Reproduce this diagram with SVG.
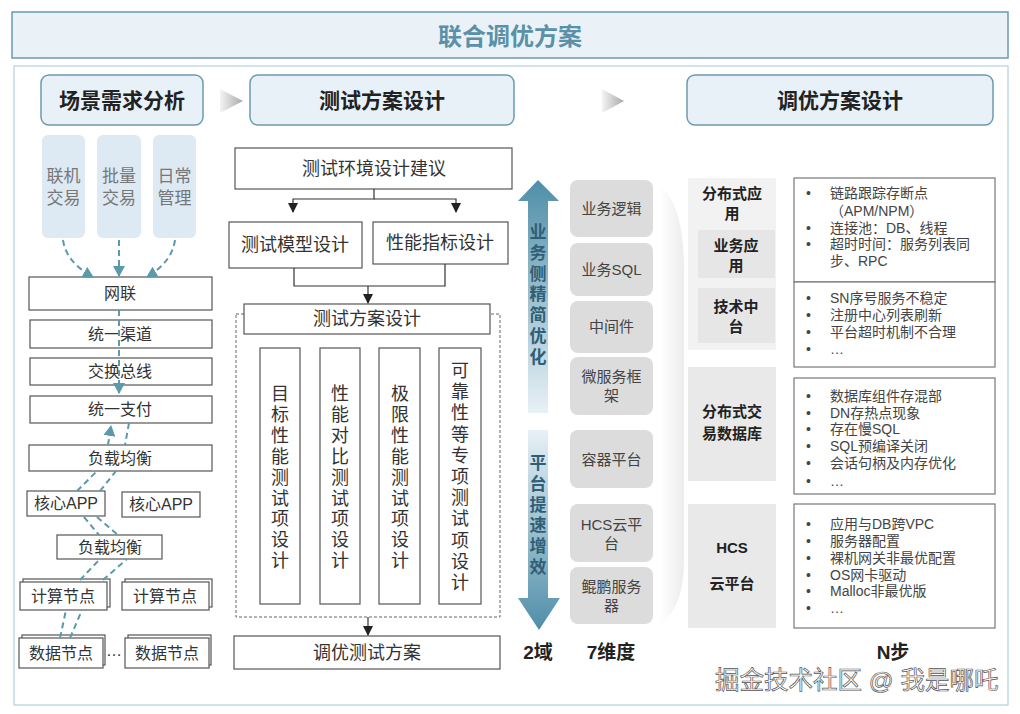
<svg xmlns="http://www.w3.org/2000/svg" width="1020" height="714" viewBox="0 0 1020 714">
<defs>
<style>
text{font-family:"Liberation Sans","Noto Sans CJK SC",sans-serif}
.hdr{fill:#e8f1f7;stroke:#6b9bb0;stroke-width:1.5}
.hdrt{font-size:21px;font-weight:bold;fill:#222;text-anchor:middle}
.box{fill:#fff;stroke:#555;stroke-width:1.2}
.bt{font-size:16px;fill:#333;text-anchor:middle}
.mt{font-size:18px;fill:#333;text-anchor:middle}
.scn{fill:#dde9f3}
.scnt{font-size:17px;fill:#777;text-anchor:middle}
.gbox{fill:#dcdcdc}
.gt{font-size:15px;fill:#444;text-anchor:middle}
.rg{fill:#e9e9e9}
.rgt{font-size:15px;font-weight:bold;fill:#222;text-anchor:middle}
.wb{fill:#fff;stroke:#777;stroke-width:1.2}
.li{font-size:14px;fill:#444}
.dash{fill:none;stroke:#5a9aaa;stroke-width:2;stroke-dasharray:6 4}
.con{fill:none;stroke:#333;stroke-width:1.2}
.big{font-size:19px;font-weight:bold;fill:#222;text-anchor:middle}
.vt{font-size:18px;fill:#333;text-anchor:middle}
.at{font-size:17px;font-weight:bold;fill:#2f5f77;text-anchor:middle}
</style>
<marker id="ta" markerUnits="userSpaceOnUse" markerWidth="12" markerHeight="12" refX="10" refY="6" orient="auto">
<path d="M0,0 L11,6 L0,12 Z" fill="#5a9aaa"/>
</marker>
<marker id="ka" markerUnits="userSpaceOnUse" markerWidth="10" markerHeight="10" refX="9" refY="5" orient="auto">
<path d="M0,0 L10,5 L0,10 Z" fill="#222"/>
</marker>
<linearGradient id="upG" x1="0" y1="0" x2="0" y2="1">
<stop offset="0" stop-color="#4f8ea8"/><stop offset="1" stop-color="#e8f1f6"/>
</linearGradient>
<linearGradient id="dnG" x1="0" y1="0" x2="0" y2="1">
<stop offset="0" stop-color="#e8f1f6"/><stop offset="1" stop-color="#4f8ea8"/>
</linearGradient>
<linearGradient id="chev" x1="0" y1="0" x2="1" y2="0">
<stop offset="0" stop-color="#f4f4f4"/><stop offset="1" stop-color="#a8a8a8"/>
</linearGradient>
<linearGradient id="brk" x1="0" y1="0" x2="1" y2="0">
<stop offset="0" stop-color="#ffffff"/><stop offset="1" stop-color="#ececec"/>
</linearGradient>
</defs>

<rect x="0" y="0" width="1020" height="714" fill="#fff"/>

<g id="title">
<rect x="12" y="12" width="996" height="46" fill="#eaf2f7" stroke="#6a9ab0" stroke-width="1.5"/>
<text x="510" y="45" font-size="24" font-weight="bold" fill="#5a90a8" text-anchor="middle">联合调优方案</text>
</g>
<rect x="14" y="66" width="994" height="639" fill="#fff" stroke="#b3cfe0" stroke-width="1.2"/>

<g id="headers">
<rect class="hdr" x="41" y="75" width="162" height="50" rx="8"/>
<text class="hdrt" x="122" y="108">场景需求分析</text>
<rect class="hdr" x="250" y="75" width="264" height="50" rx="8"/>
<text class="hdrt" x="382" y="108">测试方案设计</text>
<rect class="hdr" x="687" y="75" width="306" height="50" rx="8"/>
<text class="hdrt" x="840" y="108">调优方案设计</text>
<polygon points="220,89 243,101 220,113" fill="url(#chev)"/>
<polygon points="602,89 624,101 602,113" fill="url(#chev)"/>
</g>

<!-- Left column -->
<g id="scenarios">
<rect class="scn" x="42" y="135" width="43" height="103" rx="6"/>
<text class="scnt" x="63.5" y="182">联机</text><text class="scnt" x="63.5" y="204">交易</text>
<rect class="scn" x="97" y="135" width="44" height="103" rx="6"/>
<text class="scnt" x="119" y="182">批量</text><text class="scnt" x="119" y="204">交易</text>
<rect class="scn" x="153" y="135" width="43" height="103" rx="6"/>
<text class="scnt" x="174.5" y="182">日常</text><text class="scnt" x="174.5" y="204">管理</text>
</g>
<g id="n-wanglian"><rect class="box" x="29" y="277" width="183" height="33"/><text class="bt" x="120" y="299">网联</text></g>
<g id="n-qudao"><rect class="box" x="30" y="320" width="182" height="28"/><text class="bt" x="120" y="340">统一渠道</text></g>
<g id="n-zongxian"><rect class="box" x="30" y="358" width="182" height="27"/><text class="bt" x="120" y="377">交换总线</text></g>
<g id="n-zhifu"><rect class="box" x="30" y="396" width="182" height="27"/><text class="bt" x="120" y="415">统一支付</text></g>
<g id="n-fuzai1"><rect class="box" x="29" y="445" width="183" height="26"/><text class="bt" x="120" y="464">负载均衡</text></g>
<g id="n-app1"><rect class="box" x="27" y="491" width="78" height="25"/><text class="bt" x="66" y="509">核心APP</text></g>
<g id="n-app2"><rect class="box" x="122" y="492" width="78" height="25"/><text class="bt" x="161" y="510">核心APP</text></g>
<g id="n-fuzai2"><rect class="box" x="57" y="535" width="105" height="24"/><text class="bt" x="110" y="553">负载均衡</text></g>
<g id="n-calc1"><rect class="box" x="23" y="579" width="87" height="28"/><rect class="box" x="20" y="582" width="87" height="28"/><text class="bt" x="63" y="602">计算节点</text></g>
<g id="n-calc2"><rect class="box" x="125" y="579" width="87" height="28"/><rect class="box" x="122" y="582" width="87" height="28"/><text class="bt" x="165" y="602">计算节点</text></g>
<g id="n-data1"><rect class="box" x="22" y="635" width="83" height="30"/><rect class="box" x="19" y="638" width="84" height="30"/><text class="bt" x="61" y="659">数据节点</text></g>
<text class="bt" x="114" y="656">…</text>
<g id="n-data2"><rect class="box" x="128" y="635" width="83" height="30"/><rect class="box" x="125" y="638" width="84" height="30"/><text class="bt" x="167" y="659">数据节点</text></g>

<!-- Middle column -->
<g id="n-env"><rect class="box" x="235" y="148" width="277" height="41"/><text class="mt" x="374" y="175">测试环境设计建议</text></g>
<g id="n-model"><rect class="box" x="229" y="222" width="133" height="46"/><text class="mt" x="295" y="251">测试模型设计</text></g>
<g id="n-index"><rect class="box" x="373" y="222" width="135" height="42"/><text class="mt" x="440" y="249">性能指标设计</text></g>
<rect x="236" y="314" width="264" height="303" fill="none" stroke="#666" stroke-width="1" stroke-dasharray="3 2"/>
<g id="n-plan"><rect class="box" x="244" y="304" width="246" height="30"/><text class="mt" x="367" y="325">测试方案设计</text></g>
<g id="n-c1"><rect class="box" x="260" y="348" width="40" height="256"/>
<text class="vt" x="280" y="400"><tspan x="280">目</tspan><tspan x="280" dy="20.9">标</tspan><tspan x="280" dy="20.9">性</tspan><tspan x="280" dy="20.9">能</tspan><tspan x="280" dy="20.9">测</tspan><tspan x="280" dy="20.9">试</tspan><tspan x="280" dy="20.9">项</tspan><tspan x="280" dy="20.9">设</tspan><tspan x="280" dy="20.9">计</tspan></text></g>
<g id="n-c2"><rect class="box" x="320" y="348" width="40" height="256"/>
<text class="vt" x="340" y="400"><tspan x="340">性</tspan><tspan x="340" dy="20.9">能</tspan><tspan x="340" dy="20.9">对</tspan><tspan x="340" dy="20.9">比</tspan><tspan x="340" dy="20.9">测</tspan><tspan x="340" dy="20.9">试</tspan><tspan x="340" dy="20.9">项</tspan><tspan x="340" dy="20.9">设</tspan><tspan x="340" dy="20.9">计</tspan></text></g>
<g id="n-c3"><rect class="box" x="379" y="348" width="41" height="256"/>
<text class="vt" x="400" y="400"><tspan x="400">极</tspan><tspan x="400" dy="20.9">限</tspan><tspan x="400" dy="20.9">性</tspan><tspan x="400" dy="20.9">能</tspan><tspan x="400" dy="20.9">测</tspan><tspan x="400" dy="20.9">试</tspan><tspan x="400" dy="20.9">项</tspan><tspan x="400" dy="20.9">设</tspan><tspan x="400" dy="20.9">计</tspan></text></g>
<g id="n-c4"><rect class="box" x="439" y="348" width="42" height="256"/>
<text class="vt" x="460" y="377"><tspan x="460">可</tspan><tspan x="460" dy="21.2">靠</tspan><tspan x="460" dy="21.2">性</tspan><tspan x="460" dy="21.2">等</tspan><tspan x="460" dy="21.2">专</tspan><tspan x="460" dy="21.2">项</tspan><tspan x="460" dy="21.2">测</tspan><tspan x="460" dy="21.2">试</tspan><tspan x="460" dy="21.2">项</tspan><tspan x="460" dy="21.2">设</tspan><tspan x="460" dy="21.2">计</tspan></text></g>
<g id="n-tune"><rect class="box" x="234" y="636" width="266" height="33"/><text class="mt" x="367" y="659">调优测试方案</text></g>

<!-- Arrows: two domains -->
<g id="n-up">
<polygon points="538,180 559,201 548,201 548,413 528,413 528,201 518,201" fill="url(#upG)"/>
<text class="at" x="538" y="238"><tspan x="538">业</tspan><tspan x="538" dy="20.8">务</tspan><tspan x="538" dy="20.8">侧</tspan><tspan x="538" dy="20.8">精</tspan><tspan x="538" dy="20.8">简</tspan><tspan x="538" dy="20.8">优</tspan><tspan x="538" dy="20.8">化</tspan></text>
</g>
<g id="n-down">
<polygon points="528,430 548,430 548,598 560,598 539,630 518,598 528,598" fill="url(#dnG)"/>
<text class="at" x="538" y="469"><tspan x="538">平</tspan><tspan x="538" dy="20.8">台</tspan><tspan x="538" dy="20.8">提</tspan><tspan x="538" dy="20.8">速</tspan><tspan x="538" dy="20.8">增</tspan><tspan x="538" dy="20.8">效</tspan></text>
</g>
<text class="big" x="538" y="659">2域</text>
<text class="big" x="611" y="659">7维度</text>

<!-- 7 dimensions -->
<g id="dims">
<rect class="gbox" x="570" y="180" width="83" height="57" rx="8"/><text class="gt" x="611.5" y="214">业务逻辑</text>
<rect class="gbox" x="570" y="243" width="83" height="53" rx="8"/><text class="gt" x="611.5" y="275">业务SQL</text>
<rect class="gbox" x="570" y="301" width="83" height="52" rx="8"/><text class="gt" x="611.5" y="332">中间件</text>
<rect class="gbox" x="570" y="357" width="83" height="58" rx="8"/><text class="gt" x="611.5" y="382">微服务框</text><text class="gt" x="611.5" y="401">架</text>
<rect class="gbox" x="570" y="430" width="83" height="58" rx="8"/><text class="gt" x="611.5" y="465">容器平台</text>
<rect class="gbox" x="570" y="504" width="83" height="58" rx="8"/><text class="gt" x="611.5" y="530">HCS云平</text><text class="gt" x="611.5" y="549">台</text>
<rect class="gbox" x="570" y="567" width="83" height="57" rx="8"/><text class="gt" x="611.5" y="592">鲲鹏服务</text><text class="gt" x="611.5" y="611">器</text>
</g>
<path d="M660,186 Q684,205 684,270 L684,560 Q684,608 660,624 Z" fill="url(#brk)"/>

<!-- Right column -->
<g id="n-distapp">
<rect x="688" y="178" width="88" height="172" fill="#f2f2f2"/>
<text class="rgt" x="732" y="199">分布式应</text><text class="rgt" x="732" y="219">用</text>
<rect x="698" y="230" width="77" height="48" fill="#e6e6e6"/>
<text class="rgt" x="736" y="251">业务应</text><text class="rgt" x="736" y="271">用</text>
<rect x="698" y="288" width="77" height="55" fill="#e6e6e6"/>
<text class="rgt" x="736" y="312">技术中</text><text class="rgt" x="736" y="332">台</text>
</g>
<g id="n-distdb">
<rect class="rg" x="688" y="367" width="88" height="114"/>
<text class="rgt" x="732" y="417">分布式交</text><text class="rgt" x="732" y="439">易数据库</text>
</g>
<g id="n-hcs">
<rect class="rg" x="688" y="504" width="88" height="124"/>
<text class="rgt" x="732" y="553">HCS</text><text class="rgt" x="732" y="589">云平台</text>
</g>

<g id="n-list1">
<rect class="wb" x="794" y="178" width="201" height="104"/>
<text class="li" x="806" y="198">•</text><text class="li" x="830" y="198">链路跟踪存断点</text>
<text class="li" x="830" y="216">（APM/NPM）</text>
<text class="li" x="806" y="233">•</text><text class="li" x="830" y="233">连接池：DB、线程</text>
<text class="li" x="806" y="249">•</text><text class="li" x="830" y="249">超时时间：服务列表同</text>
<text class="li" x="830" y="266">步、RPC</text>
</g>
<g id="n-list2">
<rect class="wb" x="794" y="282" width="201" height="85"/>
<text class="li" x="806" y="303">•</text><text class="li" x="830" y="303">SN序号服务不稳定</text>
<text class="li" x="806" y="320">•</text><text class="li" x="830" y="320">注册中心列表刷新</text>
<text class="li" x="806" y="337">•</text><text class="li" x="830" y="337">平台超时机制不合理</text>
<text class="li" x="806" y="354">•</text><text class="li" x="830" y="354">…</text>
</g>
<g id="n-list3">
<rect class="wb" x="794" y="378" width="201" height="116"/>
<text class="li" x="806" y="401">•</text><text class="li" x="830" y="401">数据库组件存混部</text>
<text class="li" x="806" y="418">•</text><text class="li" x="830" y="418">DN存热点现象</text>
<text class="li" x="806" y="434">•</text><text class="li" x="830" y="434">存在慢SQL</text>
<text class="li" x="806" y="451">•</text><text class="li" x="830" y="451">SQL预编译关闭</text>
<text class="li" x="806" y="468">•</text><text class="li" x="830" y="468">会话句柄及内存优化</text>
<text class="li" x="806" y="486">•</text><text class="li" x="830" y="486">…</text>
</g>
<g id="n-list4">
<rect class="wb" x="794" y="504" width="201" height="124"/>
<text class="li" x="806" y="529">•</text><text class="li" x="830" y="529">应用与DB跨VPC</text>
<text class="li" x="806" y="546">•</text><text class="li" x="830" y="546">服务器配置</text>
<text class="li" x="806" y="563">•</text><text class="li" x="830" y="563">裸机网关非最优配置</text>
<text class="li" x="806" y="580">•</text><text class="li" x="830" y="580">OS网卡驱动</text>
<text class="li" x="806" y="596">•</text><text class="li" x="830" y="596">Malloc非最优版</text>
<text class="li" x="806" y="613">•</text><text class="li" x="830" y="613">…</text>
</g>
<text class="big" x="893" y="659">N步</text>

<!-- Connectors -->
<g id="connectors">
<path class="dash" d="M63,240 Q66,262 93,277" marker-end="url(#ta)"/>
<path class="dash" d="M119,240 L119,276" marker-end="url(#ta)"/>
<path class="dash" d="M175,240 Q172,262 147,277" marker-end="url(#ta)"/>
<path class="dash" d="M119,310 L119,393" marker-end="url(#ta)"/>
<path class="dash" d="M108,445 L111,426" marker-end="url(#ta)"/>
<path class="dash" d="M129,423 L125,445"/>
<path class="dash" d="M77,491 L97,471"/>
<path class="dash" d="M100,491 L116,471"/>
<path class="dash" d="M84,517 L99,535"/>
<path class="dash" d="M97,517 L118,535"/>
<path class="dash" d="M80,580 L100,559"/>
<path class="dash" d="M103,580 L127,559"/>
<path class="dash" d="M60,638 L66,610"/>
<path class="dash" d="M70,638 L82,610"/>

<path class="con" d="M374,189 L374,199 L293,199 L293,212" marker-end="url(#ka)"/>
<path class="con" d="M374,199 L456,199 L456,212" marker-end="url(#ka)"/>
<path class="con" d="M294,268 L294,286 L445,286 L445,264"/>
<path class="con" d="M368,286 L368,303" marker-end="url(#ka)"/>
<path class="con" d="M368,617 L368,635" marker-end="url(#ka)"/>
</g>

<text x="715" y="689" font-size="24.5" fill="#fff" stroke="#555" stroke-width="0.7">掘金技术社区 @ 我是哪吒</text>
</svg>
